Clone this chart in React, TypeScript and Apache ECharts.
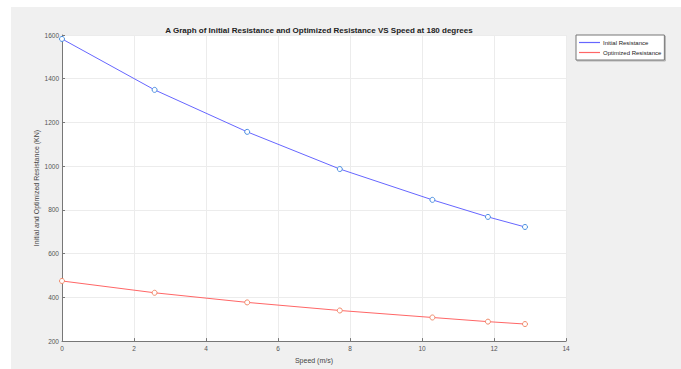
import React, { useEffect, useRef } from "react";
import * as echarts from "echarts";

const speeds = [0, 2.572, 5.144, 7.717, 10.289, 11.832, 12.861];
const initialResistance = [1582, 1349, 1157, 987, 846, 768, 722];
const optimizedResistance = [475, 421, 377, 340, 308, 289, 278];
const seriesNames = ["Initial Resistance", "Optimized Resistance"];
const lineColors = ["#6666ff", "#ff6666"];
const titleText = "A Graph of Initial Resistance and Optimized Resistance VS Speed at 180 degrees";
const xLabel = "Speed (m/s)";
const yLabel = "Initial and Optimized Resistance (KN)";

const FONT = "Liberation Sans, Arial, sans-serif";

export default function App() {
  const ref = useRef<HTMLDivElement>(null);
  useEffect(() => {
    if (!ref.current) return;
    const chart = echarts.init(ref.current, undefined, { renderer: "svg" });
    const pair = (ys: number[]) => speeds.map((x, i) => [x, ys[i]]);
    chart.setOption({
      animation: false,
      backgroundColor: "#ffffff",
      textStyle: { fontFamily: FONT },
      graphic: [
        {
          type: "rect",
          z: -10,
          silent: true,
          shape: { x: 11, y: 7, width: 670, height: 362 },
          style: { fill: "#f0f0f0" },
        },
      ],
      title: {
        text: titleText,
        left: 314,
        textAlign: "center",
        top: 21,
        textStyle: { fontSize: 8, fontWeight: "bold", color: "#222", fontFamily: FONT },
      },
      legend: {
        orient: "vertical",
        left: 576,
        top: 35,
        data: seriesNames.map((n, i) => ({
          name: n,
          itemStyle: { color: lineColors[i], borderWidth: 0 },
        })),
        icon: "rect",
        itemWidth: 21,
        itemHeight: 1.2,
        itemGap: 1,
        padding: [3, 3, 3, 3],
        backgroundColor: "#ffffff",
        borderColor: "#777",
        borderWidth: 1,
        shadowColor: "rgba(0,0,0,0.25)",
        shadowOffsetX: 1,
        shadowOffsetY: 1,
        shadowBlur: 1,
        textStyle: { fontSize: 6, lineHeight: 9, color: "#222", fontFamily: FONT, padding: [0, 0, 0, -2] },
      },
      grid: { left: 62, top: 35, right: 115, bottom: 24, containLabel: false, backgroundColor: "#fff", show: true, borderWidth: 0 },
      xAxis: {
        type: "value",
        min: 0,
        max: 14,
        interval: 2,
        name: xLabel,
        nameLocation: "middle",
        nameGap: 14,
        nameTextStyle: { fontSize: 7, color: "#444", fontFamily: FONT },
        axisLine: { show: true, lineStyle: { color: "#777", width: 1 } },
        axisTick: { show: true, inside: true, length: 3, lineStyle: { color: "#777" } },
        axisLabel: { fontSize: 6.5, color: "#555", margin: 4, fontFamily: FONT },
        splitLine: { show: true, lineStyle: { color: "#ececec", width: 1 } },
      },
      yAxis: {
        type: "value",
        min: 200,
        max: 1600,
        interval: 200,
        name: yLabel,
        nameLocation: "middle",
        nameGap: 22,
        nameMoveOverlap: false,
        nameRotate: 90,
        nameTextStyle: { fontSize: 7, color: "#444", fontFamily: FONT },
        axisLine: { show: true, lineStyle: { color: "#777", width: 1 } },
        axisTick: { show: true, inside: true, length: 3, lineStyle: { color: "#777" } },
        axisLabel: { fontSize: 6.5, color: "#555", margin: 3, fontFamily: FONT, formatter: (v: number) => String(v) },
        splitLine: { show: true, lineStyle: { color: "#ececec", width: 1 } },
      },
      series: [
        {
          name: seriesNames[0],
          type: "line",
          data: pair(initialResistance),
          symbol: "circle",
          symbolSize: 5,
          color: lineColors[0],
          lineStyle: { color: lineColors[0], width: 1 },
          itemStyle: { color: "#ffffff", borderColor: "#4a8fe0", borderWidth: 1 },
        },
        {
          name: seriesNames[1],
          type: "line",
          data: pair(optimizedResistance),
          symbol: "circle",
          symbolSize: 5,
          color: lineColors[1],
          lineStyle: { color: lineColors[1], width: 1 },
          itemStyle: { color: "#ffffff", borderColor: "#f08a6a", borderWidth: 1 },
        },
      ],
    });
    return () => chart.dispose();
  }, []);
  return (
    <div
      ref={ref}
      style={{ position: "fixed", left: 0, top: 0, width: 681, height: 369 }}
    />
  );
}
